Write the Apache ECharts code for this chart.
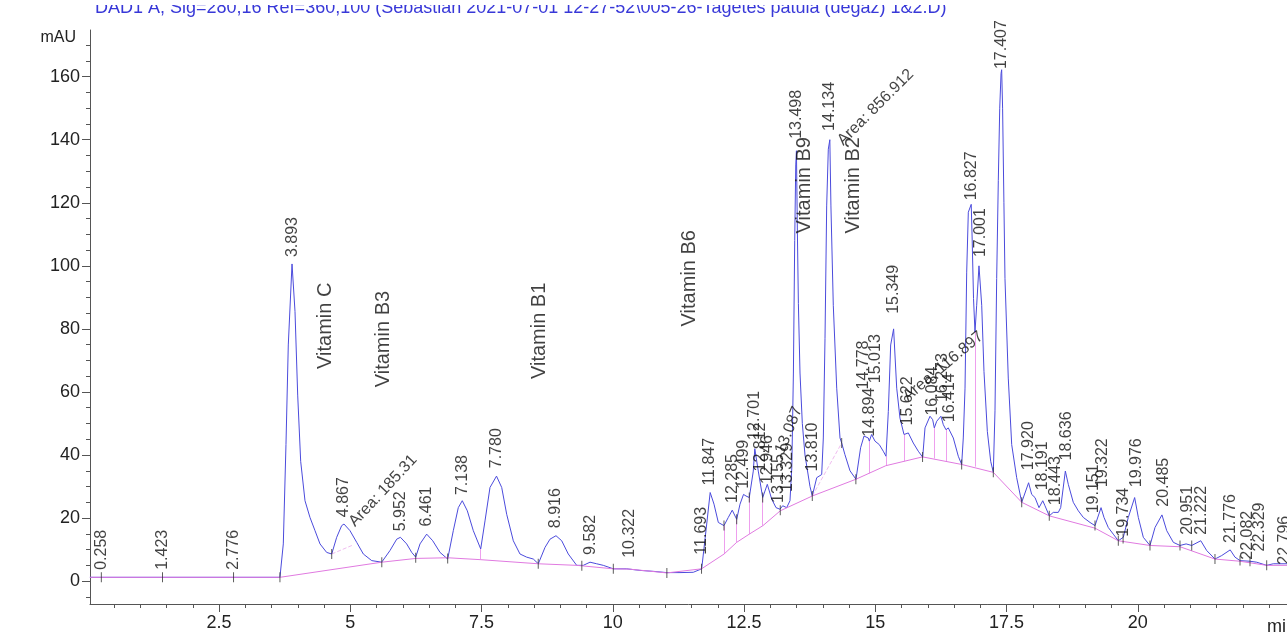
<!DOCTYPE html>
<html>
<head>
<meta charset="utf-8">
<script src="https://cdn.jsdelivr.net/npm/echarts@6/dist/echarts.min.js"></script>
<style>
html,body{margin:0;padding:0;background:#fff;}
#c{width:1287px;height:632px;}
</style>
</head>
<body>
<div id="c"></div>
<script>
// ---- data ----
const titleText = "DAD1 A, Sig=280,16 Ref=360,100 (Sebastian 2021-07-01 12-27-52\\005-26-Tagetes patula (degaz) 1&2.D)";
const xMajorTicks = [2.5, 5, 7.5, 10, 12.5, 15, 17.5, 20];
const xMinorTicks = [0.5,1,1.5,2,3,3.5,4,4.5,5.5,6,6.5,7,8,8.5,9,9.5,10.5,11,11.5,12,13,13.5,14,14.5,15.5,16,16.5,17,18,18.5,19,19.5,20.5,21,21.5,22,22.5];
const yMajorTicks = [0, 20, 40, 60, 80, 100, 120, 140, 160];
const yMinorTicks = [-5,5,10,15,25,30,35,45,50,55,65,70,75,85,90,95,105,110,115,125,130,135,145,150,155,165,170];

// detector signal (time min, mAU)
const tracePoints = [
[0.04,1.2],[3.66,1.2],
[3.724,11.8],[3.775,43.3],[3.819,74.9],[3.89,100.6],[3.947,85.5],[3.998,59],[4.055,38],[4.137,25.5],[4.232,20.2],[4.328,16],[4.423,11.8],[4.55,9.1],[4.646,8.6],[4.741,13.9],[4.836,17.6],[4.88,18.1],[4.994,16],[5.122,12.3],[5.248,8.6],[5.408,6.5],[5.598,6],[5.756,9.7],[5.884,13.3],[5.955,13.9],[6.074,11.8],[6.17,9.1],[6.246,7.6],[6.328,11.8],[6.455,14.9],[6.57,12.8],[6.709,9.1],[6.855,7],[6.962,16],[7.057,23.3],[7.133,25.5],[7.229,22.3],[7.343,16],[7.484,10.2],[7.566,19.1],[7.661,29.7],[7.785,33.3],[7.884,29.7],[7.979,21.2],[8.105,12.8],[8.232,8.6],[8.36,7.6],[8.486,7],[8.581,5.5],[8.709,10.7],[8.804,13.3],[8.918,14.4],[9.027,12.8],[9.152,8.6],[9.312,5],[9.438,5],[9.566,6],[9.693,5.5],[9.819,5],[10.01,3.9],[10.265,3.9],[10.518,3.4],[10.771,3.1],[11.027,2.7],[11.28,2.7],[11.533,2.8],[11.693,3.9],
[11.789,18.1],[11.855,28.1],[11.928,24.4],[12.01,18.6],[12.118,17.6],[12.2,20.2],[12.275,22.5],[12.36,19.6],[12.423,24.4],[12.49,27.5],[12.537,27],[12.6,26.5],[12.676,34.9],[12.705,42],[12.771,34.9],[12.855,26.5],[12.943,30.7],[13.027,26],[13.109,23.3],[13.185,22.8],[13.236,23.9],[13.312,23.3],[13.375,25.5],[13.41,36],[13.44,66],[13.465,108],[13.485,132],[13.498,136.5],[13.515,112],[13.535,88],[13.566,66],[13.61,50],[13.661,40],[13.756,30],[13.80,27],[13.884,32.8],[13.979,33.8],[14.01,45.4],[14.042,77],[14.074,119],[14.105,137],[14.134,140],[14.155,119],[14.2,87.5],[14.265,61.2],[14.328,45.4],[14.36,43.8],[14.42,40.2],[14.518,35],[14.632,32.3],[14.72,42.3],[14.785,46],[14.866,45.4],[14.886,44.4],[14.93,46.5],[14.994,44.4],[15.076,43.3],[15.152,41.2],[15.204,39.6],[15.248,53.8],[15.293,74.9],[15.349,80],[15.408,61.2],[15.47,51.7],[15.547,46.5],[15.629,47],[15.724,43.8],[15.819,41.2],[15.903,39.3],[15.947,48.6],[16.042,52.3],[16.093,51.2],[16.124,48.6],[16.17,50.7],[16.25,52.3],[16.296,49.6],[16.347,48],[16.39,48.6],[16.486,45.4],[16.581,39.6],[16.645,37],[16.676,45.4],[16.709,61.2],[16.741,98],[16.772,117],[16.827,119.5],[16.845,108.5],[16.871,89.6],[16.899,79],[16.931,87.5],[16.975,100],[17.001,100.5],[17.027,87.5],[17.07,66.5],[17.134,47.5],[17.198,38],[17.248,34.5],[17.28,54],[17.312,96],[17.343,127],[17.37,150],[17.395,161],[17.407,162.2],[17.425,150],[17.45,120],[17.47,96],[17.533,64.4],[17.598,43.3],[17.693,32.8],[17.789,25],
[17.92,31.2],[17.979,27.5],[18.042,26.5],[18.118,23.3],[18.19,25.5],[18.232,23.9],[18.314,20.7],[18.39,21.8],[18.486,21.8],[18.531,23.3],[18.62,34.9],[18.676,30.7],[18.771,25],[18.867,22.3],[18.962,20.2],[19.09,18.6],[19.185,17.6],[19.3,23.3],[19.356,20.2],[19.438,17],[19.533,14.9],[19.629,12.8],[19.724,13.9],[19.819,20.2],[19.94,26.5],[20.01,20.2],[20.105,13.9],[20.232,11.3],[20.328,17],[20.46,21],[20.551,16],[20.677,12.3],[20.804,11.3],[20.92,11.8],[21.027,11.3],[21.2,12.8],[21.312,9.7],[21.47,7],[21.598,8.1],[21.76,9.9],[21.851,7.6],[21.947,6.5],[22.137,6.3],[22.264,6],[22.455,5],[22.581,5.5],[22.842,5.5]
];

// integration baseline
const baselinePoints = [
[0.04,1.2],[3.66,1.2],[5.60,6.0],[6.25,7.2],[6.86,7.4],[7.48,6.8],[8.58,5.5],[9.31,5.0],[9.44,4.8],[10.01,3.9],[10.32,3.8],[11.03,2.6],[11.69,3.9],[12.12,8.6],[12.36,12.3],[12.60,14.9],[12.86,17.6],[13.19,22.3],[13.80,27],[14.63,32.3],[15.20,36.6],[15.90,39.4],[16.645,37],[17.248,34.5],[17.789,25],[18.314,20.7],[19.185,16.8],[19.629,12.8],[20.232,11.3],[20.804,10.9],[21.47,7],[21.947,6.3],[22.455,5],[22.842,5]
];
const skimLines = [ [[4.646,8.6],[5.03,11.3]], [[13.80,27],[14.36,43.8]] ];
// drop lines: time, signal, baseline
const dropLines = [[7.484,10.2,6.8],[12.118,17.6,8.6],[12.36,19.6,12.3],[12.60,26.5,14.9],[12.855,26.5,17.6],[14.886,44.4,34.2],[15.204,39.6,36.6],[15.547,46.5,38.0],[16.124,48.6,38.9],[16.347,48,38.1],[16.899,79,36.3]];
// integration event marks
const eventMarks = [[0.258,1.2],[1.423,1.2],[2.776,1.2],[3.66,1.2],[4.646,8.6],[5.60,6],[6.246,7.4],[6.855,7.2],[8.58,5.5],[9.41,4.9],[10.01,3.9],[11.03,2.6],[11.69,3.9],[12.118,17.6],[12.36,19.6],[12.60,26.5],[12.855,26.5],[13.19,22.5],[13.80,27],[14.36,43.8],[14.63,32.3],[15.90,39.4],[16.645,37],[17.248,34.5],[17.789,25],[18.314,20.7],[19.185,17.6],[19.629,12.8],[19.72,13.5],[20.232,11.3],[20.804,11.3],[21.027,11.3],[21.47,7],[21.947,6.5],[22.137,6.3],[22.455,5]];

// retention-time labels and the height their text starts at
const peakLabels = ["0.258","1.423","2.776","3.893","4.867","5.952","6.461","7.138","7.780","8.916","9.582","10.322","11.693","11.847","12.285","12.499","12.701","12.812","12.946","13.155","13.329","13.498","13.810","14.134","14.778","14.894","15.013","15.349","15.622","16.084","16.273","16.414","16.827","17.001","17.407","17.920","18.191","18.443","18.636","19.151","19.322","19.734","19.976","20.485","20.951","21.222","21.776","22.082","22.329","22.796"];
const peakHeights = [2.8,2.8,2.8,102,19.5,15,16.5,26.5,35,16,7.5,6.6,7.6,29.5,24,28.5,44,34,30,24,27.5,139.5,34,142,60,45,62,84,48.6,51.7,56,49.6,120,102,161.6,34.4,28,23.3,37.5,20.7,29,13.3,29,22.8,13.9,13.9,11.3,6,8.6,4.4];

// slanted annotations: text, time, height, angle
const slantLabels = ["Area: 185.31","Area: 856.912","Area: 116.897","13.087"];
const slantTimes = [5.03, 14.33, 15.57, 13.18];
const slantHeights = [18, 139, 58, 40.7];
const slantAngles = [47, 45, 40, 68];

// compound names
const vitaminNames = ["Vitamin C","Vitamin B3","Vitamin B1","Vitamin B6","Vitamin B9","Vitamin B2"];
const vitaminTimes = [4.52, 5.63, 8.61, 11.47, 13.66, 14.58];
const vitaminHeights = [66.5, 60.7, 63.3, 80, 109.5, 109.5];

// ---- chart ----
const FONT = 'Liberation Sans, Arial, sans-serif';
const axisColor = '#555';
const chart = echarts.init(document.getElementById('c'), null, {renderer:'canvas'});

function xAxisDef(major) {
  return {
    type:'value', min:0.042, max:22.842, position:'bottom', gridIndex:0,
    axisLine:{show:major, onZero:false, lineStyle:{color:axisColor, width:1}},
    axisTick:{show:true, customValues: major ? xMajorTicks : xMinorTicks, length: major ? 8 : 4, lineStyle:{color:axisColor, width:1}},
    axisLabel:{show:major, customValues: xMajorTicks, fontSize:18, color:'#222', margin:10, fontFamily:FONT},
    splitLine:{show:false}
  };
}
function yAxisDef(major) {
  return {
    type:'value', min:-7.26, max:174.8, position:'left', gridIndex:0,
    axisLine:{show:major, onZero:false, lineStyle:{color:axisColor, width:1}},
    axisTick:{show:true, customValues: major ? yMajorTicks : yMinorTicks, length: major ? 8 : 4, lineStyle:{color:axisColor, width:1}},
    axisLabel:{show:major, customValues: yMajorTicks, fontSize:18, color:'#222', margin:10, fontFamily:FONT},
    splitLine:{show:false}
  };
}

const labelSeries = (data, fontSize, extra) => ({
  type:'scatter', symbolSize:1, itemStyle:{color:'rgba(0,0,0,0)'}, silent:true, z:5,
  data: data,
  label: Object.assign({show:true, formatter:'{b}', position:'top', distance:2, align:'left', verticalAlign:'middle',
    rotate:90, fontSize:fontSize, color:'#111', fontFamily:FONT}, extra || {})
});

const option = {
  animation:false,
  backgroundColor:'#fff',
  grid:{left:90, right:0, top:30, bottom:25, containLabel:false},
  xAxis:[xAxisDef(true), xAxisDef(false)],
  yAxis:[yAxisDef(true), yAxisDef(false)],
  graphic:[
    {type:'text', x:95, y:8, z:10, style:{text:titleText, fill:'#3838d8', font:'18px ' + FONT, textAlign:'left', textVerticalAlign:'middle'}},
    {type:'rect', x:90, y:0, z:11, shape:{width:900, height:5}, style:{fill:'#fff'}},
    {type:'text', x:76, y:38, style:{text:'mAU', fill:'#222', font:'16px ' + FONT, textAlign:'right', textVerticalAlign:'middle'}},
    {type:'text', x:1267, y:627, style:{text:'min', fill:'#222', font:'18px ' + FONT, textAlign:'left', textVerticalAlign:'middle'}}
  ],
  series:[
    {type:'line', name:'signal', data:tracePoints, symbol:'none', z:3, lineStyle:{color:'#4b4bdc', width:1}},
    {type:'line', name:'baseline', data:baselinePoints, symbol:'none', z:4, lineStyle:{color:'#e07ae0', width:1}},
    {type:'lines', coordinateSystem:'cartesian2d', z:4, data: skimLines.map(c => ({coords:c})), lineStyle:{color:'#e07ae0', width:1, type:'dashed'}},
    {type:'lines', coordinateSystem:'cartesian2d', z:4, data: dropLines.map(d => ({coords:[[d[0],d[1]],[d[0],d[2]]]})), lineStyle:{color:'#dd40dd', width:1}},
    {type:'scatter', z:6, symbol:'rect', symbolSize:[1,10], itemStyle:{color:'#333'}, data:eventMarks, silent:true},
    labelSeries(peakLabels.map((s,i) => ({name:s, value:[parseFloat(s), peakHeights[i]]})), 16),
    labelSeries(slantLabels.map((s,i) => ({name:s, value:[slantTimes[i], slantHeights[i]], label:{rotate:slantAngles[i]}})), 16, {position:'inside', distance:0}),
    labelSeries(vitaminNames.map((s,i) => ({name:s, value:[vitaminTimes[i], vitaminHeights[i]]})), 20)
  ]
};
chart.setOption(option);
</script>
</body>
</html>
